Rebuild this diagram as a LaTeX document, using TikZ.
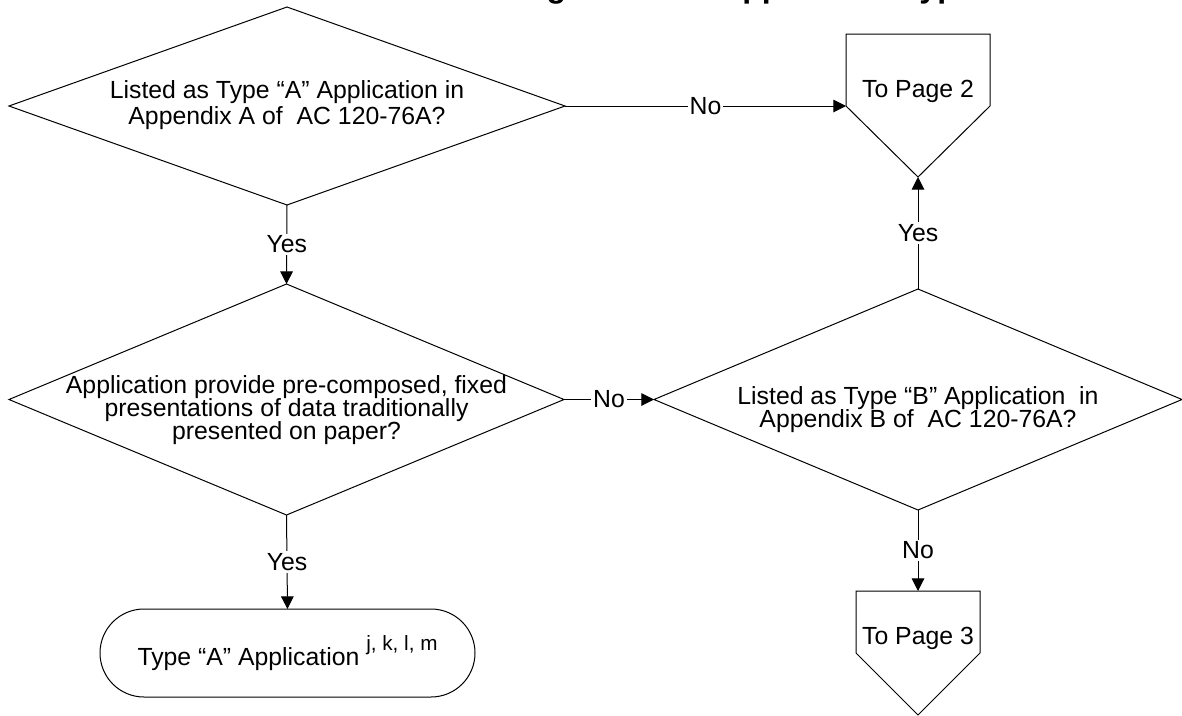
\documentclass[tikz,border=0pt]{standalone}
\usepackage{fontspec}
\setmainfont{Liberation Sans}
\usetikzlibrary{shapes.geometric,arrows.meta}

\newcommand\qfont{\fontsize{18.6pt}{19.5pt}\selectfont\lineskiplimit=-50pt\relax}
\newcommand\tightfont{\fontsize{18.6pt}{17.25pt}\selectfont\lineskiplimit=-50pt\relax}

\begin{document}
\begin{tikzpicture}[x=0.75pt,y=-0.75pt,
  every node/.style={inner sep=0pt, outer sep=0pt},
  decision/.style={diamond, draw, line width=0.75pt},
  qtext/.style={align=center, font=\qfont},
  qtight/.style={align=center, font=\tightfont},
  lbl/.style={fill=white, inner sep=1.5pt, font=\qfont},
  link/.style={line width=0.75pt, line join=miter},
  flow/.style={link, -{Triangle[length=9.5pt,width=9.5pt]}},
  terminal/.style={draw, line width=0.75pt, rounded corners=33pt, font=\qfont},
]
\useasboundingbox (0,0) rectangle (1182,715);

% heading (its upper part lies above the page)
\node[font=\bfseries\fontsize{24pt}{26pt}\selectfont, anchor=base west] (title)
  at (168,-2.5) {Flowchart for Determining Software Application Type};

% decisions
\node[decision, minimum width=417pt, minimum height=148.5pt] (d1) at (287,106) {};
\node[qtext] (d1t) at (287,105) {Listed as Type “A” Application in\\Appendix A of\ \ AC 120-76A?};

\node[decision, minimum width=416.25pt, minimum height=173.25pt] (d3) at (286.5,399.5) {};
\node[qtight] (d3t) at (286.5,410) {Application provide pre-composed, fixed\\presentations of data traditionally\\presented on paper?};

\node[decision, minimum width=396pt, minimum height=165.75pt] (d2) at (918,399.5) {};
\node[qtight] (d2t) at (918,410) {Listed as Type “B” Application\ \ in\\Appendix B of\ \ AC 120-76A?};

% terminal
\node[terminal, minimum width=281.25pt, minimum height=66pt] (term) at (287.5,653)
  {Type “A” Application \raisebox{11pt}{\fontsize{15.5pt}{16pt}\selectfont j, k, l, m}};

% off-page connectors
\draw[link] (846,34) -- (990,34) -- (990,106) -- (918,177) coordinate (tp2s)
  -- (846,106) coordinate (tp2w) -- cycle;
\node[qtext, anchor=base] (tp2) at (918,97) {To Page 2};

\draw[link] (856,591) -- (980,591) -- (980,653) -- (918,715)
  -- (856,653) -- cycle;
\coordinate (tp3n) at (918,591);
\node[qtext, anchor=base] (tp3) at (918,644) {To Page 3};

% connectors
\draw[flow] (d1.east) -- node[lbl]{No} (tp2w);
\draw[flow] (d1.south) -- node[lbl]{Yes} (d3.north);
\draw[flow] (d3.east) -- node[lbl]{No} (d2.west);
\draw[flow] (d3.south) -- node[lbl]{Yes} (term.north);
\draw[flow] (d2.north) -- node[lbl]{Yes} (tp2s);
\draw[flow] (d2.south) -- node[lbl]{No} (tp3n);
\end{tikzpicture}
\end{document}
